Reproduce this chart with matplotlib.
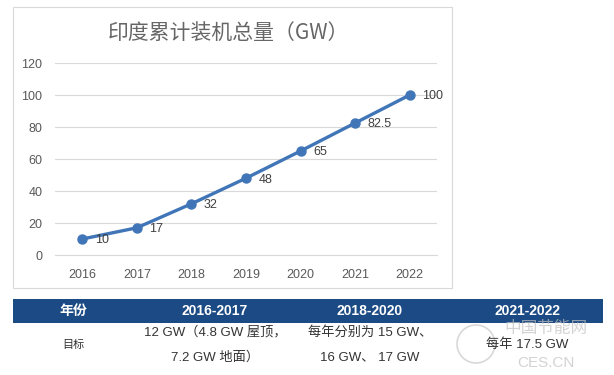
import matplotlib
matplotlib.use("Agg")
import matplotlib.pyplot as plt
from matplotlib.patches import Rectangle, Ellipse

plt.rcParams['font.family'] = ['Noto Sans CJK SC', 'DejaVu Sans']

# ── data ─────────────────────────────────────────────────────────────────────
years = ["2016", "2017", "2018", "2019", "2020", "2021", "2022"]
capacity = [10, 17, 32, 48, 65, 82.5, 100]
value_labels = ["10", "17", "32", "48", "65", "82.5", "100"]
y_ticks = [0, 20, 40, 60, 80, 100, 120]

table_header = ["年份", "2016-2017", "2018-2020", "2021-2022"]
table_row_label = "目标"
table_targets = [
    ["12 GW（4.8 GW 屋顶，", "7.2 GW 地面）"],
    ["每年分别为 15 GW、", "16 GW、 17 GW"],
    ["每年 17.5 GW"],
]

W, H = 614, 375
LINE = "#4076B8"
GRAY = "#595959"
LATIN = ["Liberation Sans", "Noto Sans CJK SC"]


def fx(px):
    return px / W


def fy(py):
    return 1 - py / H


fig = plt.figure(figsize=(W / 100, H / 100), dpi=100)
fig.patch.set_facecolor("white")

# chart frame
fig.patches.append(Rectangle((fx(13), fy(288)), fx(452) - fx(13), fy(7) - fy(288),
                             transform=fig.transFigure, fill=False,
                             edgecolor="#D9D9D9", lw=0.8))

ax = fig.add_axes([fx(55), fy(255), fx(437) - fx(55), fy(63) - fy(255)])
x = range(len(years))
ax.plot(x, capacity, color=LINE, lw=2.4, marker="o", ms=6.5, zorder=3)
for xi, v, lab in zip(x, capacity, value_labels):
    ax.annotate(lab, (xi, v), xytext=(9, -1), textcoords="offset points",
                fontsize=9, color="#404040", ha="left", va="center",
                family=LATIN)

ax.set_xlim(-0.5, len(years) - 0.5)
ax.set_ylim(0, 120)
ax.set_yticks(y_ticks)
ax.set_xticks(list(x))
ax.set_xticklabels(years)
ax.grid(axis="y", color="#D9D9D9", lw=0.8)
ax.set_axisbelow(True)
for s in ax.spines.values():
    s.set_visible(False)
ax.spines["bottom"].set_visible(True)
ax.spines["bottom"].set_color("#D9D9D9")
ax.tick_params(length=0, labelsize=9, colors=GRAY)
ax.tick_params(axis="x", pad=10)
ax.tick_params(axis="y", pad=9)
for lab in ax.get_xticklabels() + ax.get_yticklabels():
    lab.set_family(LATIN)

fig.text(fx(228), fy(33), "印度累计装机总量（GW）", fontsize=15, color="#666666",
         ha="center", va="center")

# ── table ────────────────────────────────────────────────────────────────────
fig.patches.append(Rectangle((fx(13), fy(323)), fx(603) - fx(13), fy(299) - fy(323),
                             transform=fig.transFigure, color="#1C4A84", lw=0))
col_x = [73, 215, 370, 527]
for cx, txt in zip(col_x, table_header):
    fig.text(fx(cx), fy(311), txt, fontsize=10, color="white", fontweight="bold",
             ha="center", va="center", family=LATIN)

fig.text(fx(col_x[0]), fy(345), table_row_label, fontsize=8, color="#333333",
         ha="center", va="center")
for cx, lines in zip(col_x[1:], table_targets):
    ys = [332, 357] if len(lines) == 2 else [345]
    for ty, line in zip(ys, lines):
        fig.text(fx(cx), fy(ty), line, fontsize=9.5, color="#333333",
                 ha="center", va="center", family=LATIN)

# watermark
fig.patches.append(Ellipse((fx(476), fy(344)), 38 / W, 38 / H,
                           transform=fig.transFigure, fill=False,
                           edgecolor="#C8C8C8", lw=1.2, alpha=0.7))
fig.text(fx(546), fy(328), "中国节能网", fontsize=12, color="#C0C0C0", alpha=0.7,
         ha="center", va="center")
fig.text(fx(546), fy(363), "CES.CN", fontsize=11, color="#C0C0C0", alpha=0.7,
         ha="center", va="center", family=LATIN)

fig.savefig("out.png", dpi=100)
